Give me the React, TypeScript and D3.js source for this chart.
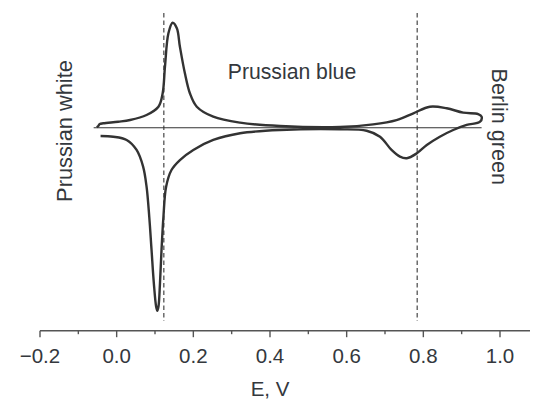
import React from "react";
import * as d3 from "d3";

// Cyclic voltammogram: potential (V) and normalised current (a.u.), traced forward then back
const potential = [
  -0.052, -0.048, -0.044, -0.035, 0.004, 0.035, 0.078, 0.109, 0.12, 0.126, 0.135, 0.146,
  0.157, 0.165, 0.178, 0.191, 0.209, 0.252, 0.322, 0.426, 0.583, 0.669, 0.73, 0.774,
  0.817, 0.861, 0.904, 0.943, 0.952, 0.948,
  0.913, 0.878, 0.843, 0.809, 0.783, 0.757, 0.739, 0.717, 0.687, 0.652, 0.583, 0.426,
  0.322, 0.252, 0.2, 0.165, 0.143, 0.129, 0.122, 0.117, 0.113, 0.109, 0.106, 0.103,
  0.097, 0.091, 0.085, 0.078, 0.069, 0.052, 0.026, -0.009, -0.042,
];
const current = [
  0.004, 0.016, 0.035, 0.042, 0.057, 0.073, 0.121, 0.2, 0.328, 0.581, 0.899, 1.0,
  0.947, 0.771, 0.518, 0.328, 0.2, 0.105, 0.048, 0.016, 0.007, 0.032, 0.073, 0.137,
  0.2, 0.185, 0.143, 0.13, 0.105, 0.057,
  0.026, -0.022, -0.086, -0.165, -0.244, -0.291, -0.276, -0.212, -0.086, -0.029, -0.015, -0.022,
  -0.053, -0.117, -0.212, -0.308, -0.403, -0.562, -0.848, -1.165, -1.482, -1.705, -1.743, -1.705,
  -1.482, -1.165, -0.848, -0.562, -0.371, -0.212, -0.117, -0.086, -0.079,
];
const xTicks = [-0.2, 0.0, 0.2, 0.4, 0.6, 0.8, 1.0];
const xTickLabels = ["\u22120.2", "0.0", "0.2", "0.4", "0.6", "0.8", "1.0"];
const xMinorTicks = [-0.1, 0.1, 0.3, 0.5, 0.7, 0.9];
const dashedPotentials = [0.123, 0.784];
const zeroLineRange = [-0.06, 0.952];
const xLabel = "E, V";
const stateLabels = ["Prussian white", "Prussian blue", "Berlin green"];

export default function App() {
  const W = 533;
  const H = 399;
  const x = d3.scaleLinear().domain([-0.2, 1.0]).range([40, 500]);
  const y = d3.scaleLinear().domain([0, 1]).range([127.7, 22.7]);
  const axisY = 330.7;
  const pts = potential.map((e, i) => [e, current[i]] as [number, number]);
  const line = d3
    .line<[number, number]>()
    .x((d) => x(d[0]))
    .y((d) => y(d[1]))
    .curve(d3.curveCatmullRom.alpha(0.5));
  const font = "'Liberation Sans', Arial, Helvetica, sans-serif";
  const textColor = "#34383d";
  return (
    <svg
      width={W}
      height={H}
      style={{ position: "absolute", left: 0, top: 0, background: "#fff" }}
      fontFamily={font}
    >
      {/* dashed guide lines */}
      {dashedPotentials.map((e, i) => (
        <line
          key={i}
          x1={x(e)}
          x2={x(e)}
          y1={13}
          y2={321}
          stroke="#555"
          strokeWidth={1.3}
          strokeDasharray="4.5,3"
        />
      ))}
      {/* zero current line */}
      <line
        x1={x(zeroLineRange[0])}
        x2={x(zeroLineRange[1])}
        y1={y(0)}
        y2={y(0)}
        stroke="#333"
        strokeWidth={1.1}
      />
      {/* CV curve */}
      <path d={line(pts) ?? ""} fill="none" stroke="#333" strokeWidth={2.4} strokeLinejoin="round" />
      {/* x axis */}
      <line x1={x(-0.2)} x2={530} y1={axisY} y2={axisY} stroke="#555" strokeWidth={1.4} />
      {xTicks.map((t) => (
        <line key={"M" + t} x1={x(t)} x2={x(t)} y1={axisY} y2={axisY + 6.5} stroke="#555" strokeWidth={1.4} />
      ))}
      {xMinorTicks.map((t) => (
        <line key={"m" + t} x1={x(t)} x2={x(t)} y1={axisY} y2={axisY + 3.5} stroke="#555" strokeWidth={1.4} />
      ))}
      {xTicks.map((t, i) => (
        <text key={"l" + t} x={x(t)} y={363.3} textAnchor="middle" fontSize={20.5} fill={textColor}>
          {xTickLabels[i]}
        </text>
      ))}
      <text x={x(0.4)} y={396} textAnchor="middle" fontSize={20.5} fill={textColor}>
        {xLabel}
      </text>
      {/* state labels */}
      <text
        transform={`translate(71.7,131) rotate(-90)`}
        textAnchor="middle"
        fontSize={21.8}
        fill={textColor}
      >
        {stateLabels[0]}
      </text>
      <text x={292} y={79} textAnchor="middle" fontSize={21.2} fill={textColor}>
        {stateLabels[1]}
      </text>
      <text
        transform={`translate(491.5,126.7) rotate(90)`}
        textAnchor="middle"
        fontSize={21.6}
        fill={textColor}
      >
        {stateLabels[2]}
      </text>
    </svg>
  );
}
